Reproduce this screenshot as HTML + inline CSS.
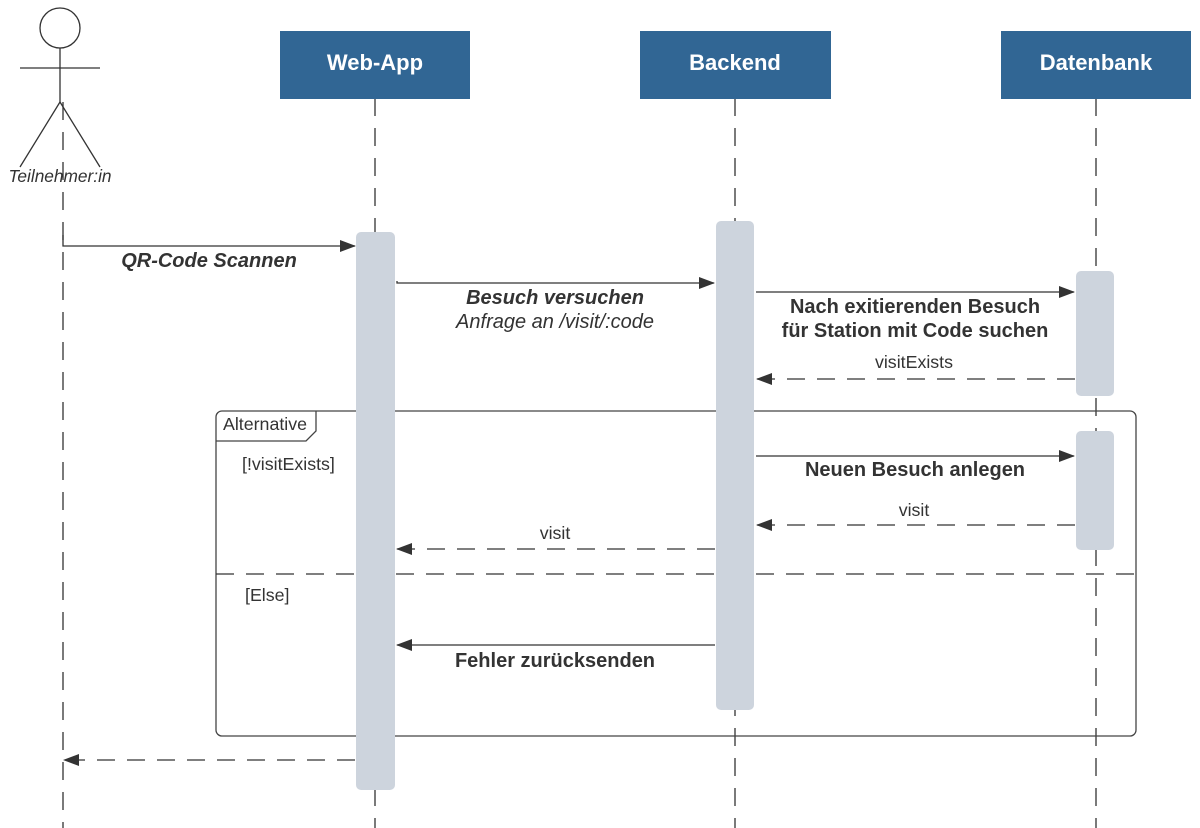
<!DOCTYPE html>
<html><head><meta charset="utf-8"><style>
html,body{margin:0;padding:0;background:#fff;}
svg{display:block;font-family:"Liberation Sans",Arial,sans-serif;}
</style></head><body>
<svg width="1200" height="828" viewBox="0 0 1200 828" xmlns="http://www.w3.org/2000/svg">
<defs>
<marker id="ah" markerWidth="16" markerHeight="12" refX="15" refY="6" orient="auto" markerUnits="userSpaceOnUse">
<path d="M0,0 L16,6 L0,12 Z" fill="#333"/></marker>
</defs>
<g stroke="#333" stroke-width="1.3" stroke-dasharray="18,12" fill="none">
<line x1="63" y1="102" x2="63" y2="828"/>
<line x1="375" y1="98" x2="375" y2="828"/>
<line x1="735" y1="98" x2="735" y2="828"/>
<line x1="1096" y1="98" x2="1096" y2="828"/>
</g>
<g stroke="#333" stroke-width="1.3" fill="none">
<circle cx="60" cy="28" r="20" fill="#fff"/>
<line x1="60" y1="48" x2="60" y2="102"/>
<line x1="20" y1="68" x2="100" y2="68"/>
<line x1="60" y1="102" x2="20" y2="167"/>
<line x1="60" y1="102" x2="100" y2="167"/>
</g>
<text x="60" y="182" font-size="17.3" font-style="italic" fill="#333" text-anchor="middle">Teilnehmer:in</text>
<rect x="280" y="31" width="190" height="68" fill="#316694"/>
<rect x="640" y="31" width="191" height="68" fill="#316694"/>
<rect x="1001" y="31" width="190" height="68" fill="#316694"/>
<g fill="#fff" font-size="22" font-weight="bold" text-anchor="middle">
<text x="375" y="70">Web-App</text>
<text x="735" y="70">Backend</text>
<text x="1096" y="70">Datenbank</text>
</g>
<rect x="216" y="411" width="920" height="325" rx="6" fill="none" stroke="#444" stroke-width="1.3"/>
<path d="M216,441 L306,441 L316,431 L316,411" fill="none" stroke="#444" stroke-width="1.3"/>
<line x1="216" y1="574" x2="1136" y2="574" stroke="#333" stroke-width="1.3" stroke-dasharray="18,12"/>
<g fill="#333" font-size="17.8">
<text x="223" y="430">Alternative</text>
<text x="242" y="470">[!visitExists]</text>
<text x="245" y="601">[Else]</text>
</g>
<g fill="#cdd4dd">
<rect x="356" y="232" width="39" height="558" rx="5"/>
<rect x="716" y="221" width="38" height="489" rx="5"/>
<rect x="1076" y="271" width="38" height="125" rx="5"/>
<rect x="1076" y="431" width="38" height="119" rx="5"/>
</g>
<g stroke="#333" stroke-width="1.3" fill="none" marker-end="url(#ah)">
<polyline points="63,235 63,246 355,246"/>
<polyline points="397,281 397,283 714,283"/>
<line x1="756" y1="292" x2="1074" y2="292"/>
<line x1="1075" y1="379" x2="757" y2="379" stroke-dasharray="18,12"/>
<line x1="756" y1="456" x2="1074" y2="456"/>
<line x1="1075" y1="525" x2="757" y2="525" stroke-dasharray="18,12"/>
<line x1="715" y1="549" x2="397" y2="549" stroke-dasharray="18,12"/>
<line x1="715" y1="645" x2="397" y2="645"/>
<line x1="355" y1="760" x2="64" y2="760" stroke-dasharray="18,12"/>
</g>
<g fill="#333" text-anchor="middle" font-size="20">
<text x="209" y="267" font-weight="bold" font-style="italic">QR-Code Scannen</text>
<text x="555" y="304" font-weight="bold" font-style="italic">Besuch versuchen</text>
<text x="555" y="328" font-style="italic">Anfrage an /visit/:code</text>
<text x="915" y="313" font-weight="bold">Nach exitierenden Besuch</text>
<text x="915" y="337" font-weight="bold">für Station mit Code suchen</text>
<text x="914" y="368" font-size="17.8">visitExists</text>
<text x="915" y="476" font-weight="bold">Neuen Besuch anlegen</text>
<text x="914" y="516" font-size="17.8">visit</text>
<text x="555" y="539" font-size="17.8">visit</text>
<text x="555" y="667" font-weight="bold">Fehler zurücksenden</text>
</g>
</svg>
</body></html>
